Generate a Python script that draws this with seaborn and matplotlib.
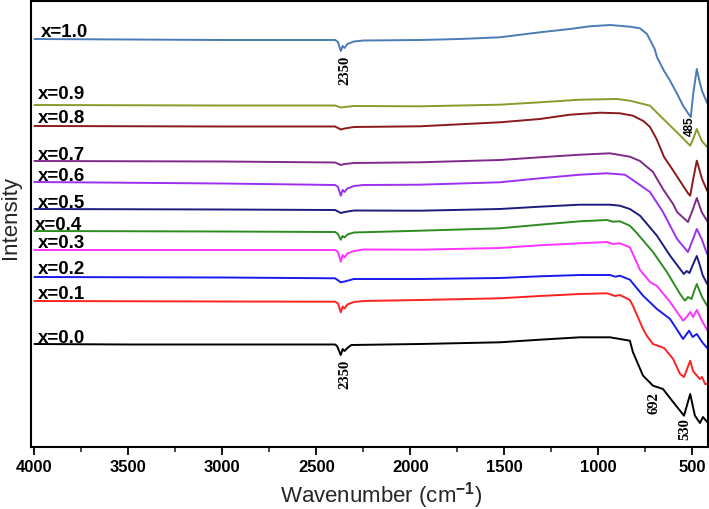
import numpy as np
import pandas as pd
import matplotlib
matplotlib.use("Agg")
import matplotlib.pyplot as plt
from matplotlib.ticker import MultipleLocator
import seaborn as sns

# ---------------- data ----------------
labels = ["x=1.0", "x=0.9", "x=0.8", "x=0.7", "x=0.6", "x=0.5",
          "x=0.4", "x=0.3", "x=0.2", "x=0.1", "x=0.0"]
colors = ["#4a7bb7", "#8c9a2c", "#8b1a1a", "#7f2a8a", "#9b30f0", "#1c1c80",
          "#2e8b22", "#ff33ff", "#1a1aee", "#ff2222", "#000000"]

xtick_values = [4000, 3500, 3000, 2500, 2000, 1500, 1000, 500]
xtick_labels = ["4000", "3500", "3000", "2500", "2000", "1500", "1000", "500"]

wn_10 = [4000, 3500, 3000, 2600, 2400, 2385, 2370, 2360, 2350, 2335, 2300, 2250, 1950, 1737, 1524, 1311, 1151,
         1045, 938, 832, 778, 741, 700, 688, 650, 618, 580, 549, 520, 508, 495, 476, 462, 448, 421]
in_10 = [408, 407.5, 407, 407, 407, 405, 396, 401, 399, 403, 405.5, 406.5, 407, 408, 409.7, 414.7, 418,
         420.7, 422, 420.3, 418.7, 413, 398, 390, 376, 366.3, 353, 341.3, 333, 330, 353, 378, 366, 356, 344]

wn_09 = [4000, 3000, 2400, 2370, 2350, 2300, 1950, 1524, 1311, 1098, 901, 832, 725, 672, 583, 511, 495, 476, 450, 421]
in_09 = [342, 341.5, 341.5, 339.5, 340, 341, 340.7, 342.3, 344.7, 347.3, 348, 346.3, 341.3, 331.3, 315, 301.3, 308,
         318, 306.3, 300]

wn_08 = [4000, 3000, 2400, 2370, 2350, 2300, 1950, 1524, 1311, 1151, 991, 885, 816, 760, 725, 690, 650, 600, 549,
         520, 511, 495, 476, 460, 448, 421]
in_08 = [321, 320.5, 320.5, 317.5, 318.5, 320, 320.7, 324.7, 328, 332.3, 334.3, 333.7, 331.3, 326, 320, 308, 290,
         276, 261.3, 253, 251.3, 268, 286.3, 276, 268, 256.3]

wn_07 = [4000, 3000, 2400, 2370, 2350, 2300, 1950, 1524, 1311, 1098, 938, 832, 778, 709, 656, 602, 581, 523, 500,
         476, 450, 421]
in_07 = [286, 285.5, 284.5, 282, 283, 284, 284.7, 287, 289.7, 292.3, 293.7, 290.3, 286, 275, 258, 243, 235, 225, 236,
         249, 235, 226]

wn_06 = [4000, 3000, 2400, 2385, 2370, 2360, 2350, 2335, 2300, 2250, 1950, 1524, 1311, 1098, 954, 859, 832, 725,
         656, 581, 523, 500, 476, 450, 421]
in_06 = [265, 263.5, 262, 260, 251.3, 257, 255, 258.5, 261, 262, 262.3, 264.7, 268.7, 272.3, 273.7, 272.3, 269, 255,
         235, 208, 195, 206, 218, 208, 193]

wn_05 = [4000, 3000, 2400, 2370, 2350, 2300, 1950, 1524, 1311, 1098, 938, 885, 832, 778, 688, 618, 545, 530, 515,
         495, 476, 460, 445, 421]
in_05 = [238, 237.5, 237, 234, 235, 236.5, 236.3, 238, 240.3, 242.3, 242.3, 241.3, 238, 231.3, 211.3, 191.3, 173,
         176, 174, 183, 191, 182, 172, 163]

wn_04 = [4000, 3000, 2400, 2385, 2370, 2360, 2350, 2335, 2300, 1950, 1524, 1311, 1098, 954, 922, 885, 832, 800,
         709, 635, 565, 539, 523, 504, 490, 476, 448, 421]
in_04 = [216, 215.5, 215, 213, 207.3, 211, 209.5, 212.5, 214.5, 216.3, 218.7, 222.3, 225.7, 227, 225.3, 225.7, 221.3,
         215, 195, 175, 153, 146.3, 150, 148, 156, 163, 150, 141.3]

wn_03 = [4000, 3000, 2400, 2385, 2370, 2360, 2350, 2335, 2300, 2250, 1950, 1524, 1311, 1098, 954, 922, 885, 832,
         816, 778, 725, 688, 618, 549, 530, 511, 496, 476, 448, 421]
in_03 = [197, 197, 197, 195, 185.3, 192, 189.5, 193.5, 196, 197.5, 197.3, 199, 201.7, 203.7, 205, 203, 203.7, 199.7,
         193, 177, 165, 161, 145, 126.3, 130, 135, 130, 137, 126, 117]

wn_02 = [4000, 3000, 2400, 2370, 2350, 2300, 1950, 1524, 1311, 1098, 938, 910, 885, 832, 762, 688, 618, 549, 517,
         498, 476, 448, 421]
in_02 = [170, 169.5, 168.7, 164.7, 165.5, 168, 168, 169, 170.7, 172, 172, 170.3, 171.3, 167.3, 151.3, 138, 128, 108,
         116.3, 110, 113, 105, 99]

wn_01 = [4000, 3000, 2400, 2385, 2370, 2360, 2350, 2335, 2300, 2250, 1950, 1524, 1311, 1098, 954, 910, 885, 832,
         816, 762, 741, 709, 650, 602, 565, 544, 511, 496, 475, 459, 448, 432, 421]
in_01 = [146, 145.5, 145.3, 143.5, 134.7, 140.5, 138.5, 142.5, 145, 146, 147, 148.7, 151, 153, 153.7, 151, 152, 147,
         141.3, 118, 111, 103, 99, 88, 73, 70, 86.3, 76, 71.3, 68, 70, 63, 63]

wn_00 = [4000, 3500, 3000, 2400, 2390, 2370, 2360, 2350, 2335, 2314, 1950, 1524, 1311, 1098, 938, 832, 816, 762,
         709, 656, 602, 544, 511, 486, 459, 443, 421]
in_00 = [103, 102.5, 102.5, 102.5, 101, 92, 98, 96, 99, 102, 103, 104.7, 107.3, 109.7, 109.7, 106.3, 95, 71.3,
         61.3, 58, 45, 31.3, 53, 31.3, 24, 30, 25]

wn_sets = [wn_10, wn_09, wn_08, wn_07, wn_06, wn_05, wn_04, wn_03, wn_02, wn_01, wn_00]
in_sets = [in_10, in_09, in_08, in_07, in_06, in_05, in_04, in_03, in_02, in_01, in_00]

# label anchor (left, baseline) in data units
label_wn = [3963, 3979, 3979, 3984, 3984, 3984, 3995, 3979, 3979, 3979, 3979]
label_in = [411, 349, 325, 288, 267, 240, 218, 200, 174, 149, 105]

# peak annotations
ann_text = ["2350", "2350", "485", "692", "530"]
ann_wn = [2349, 2349, 515, 704, 539]
ann_in = [377.5, 73.5, 321.5, 45, 19]

# ---------------- build long table ----------------
frames = []
for lab, w, v in zip(labels, wn_sets, in_sets):
    frames.append(pd.DataFrame({"Wavenumber": w, "Intensity": v, "sample": lab}))
df = pd.concat(frames, ignore_index=True)

sns.set_style("ticks")
plt.rcParams["font.family"] = ["Liberation Sans", "DejaVu Sans"]
plt.rcParams["font.weight"] = "bold"
plt.rcParams["mathtext.fontset"] = "custom"
plt.rcParams["mathtext.rm"] = "Liberation Sans"
plt.rcParams["mathtext.it"] = "Liberation Sans:italic"

fig = plt.figure(figsize=(7.09, 5.10), dpi=100)
ax = fig.add_axes([31 / 709, 62 / 510, 676.5 / 709, 446 / 510])

sns.lineplot(data=df, x="Wavenumber", y="Intensity", hue="sample",
             palette=dict(zip(labels, colors)), hue_order=labels,
             sort=False, estimator=None, legend=False, linewidth=1.4, ax=ax)

ax.set_xlim(4018, 419)
ax.set_ylim(0, 446)
ax.set_yticks([])
ax.set_xticks(xtick_values)
ax.set_xticklabels(xtick_labels, fontweight="bold")
ax.xaxis.set_minor_locator(MultipleLocator(250))
ax.tick_params(axis="x", which="major", direction="out", length=5.5, width=1.3, pad=3,
               colors="black", labelsize=12)
ax.tick_params(axis="x", which="minor", direction="out", length=3.5, width=1.2)
for sp in ax.spines.values():
    sp.set_visible(True)
    sp.set_linewidth(1.5)
    sp.set_color("black")

ax.set_xlabel("Wavenumber (cm$^{-1}$)", fontsize=16, fontweight="normal", labelpad=4)
ax.xaxis.label.set_x(0.518)
ax.set_ylabel("Intensity", fontsize=16, fontweight="normal", labelpad=7)
ax.yaxis.label.set_y(0.516)

for lab, w, v in zip(labels, label_wn, label_in):
    ax.text(w, v, lab, fontsize=13.5, fontweight="bold", ha="left", va="baseline", color="black")

for t, w, v in zip(ann_text, ann_wn, ann_in):
    fam = ["Liberation Sans", "DejaVu Sans"] if t == "485" else ["Liberation Serif", "DejaVu Serif"]
    size = 8.5 if t == "485" else 10.5
    ax.text(w, v, t, rotation=90, ha="center", va="center", fontsize=size,
            fontweight="bold", family=fam, color="black")

fig.savefig("out.png", dpi=100)
